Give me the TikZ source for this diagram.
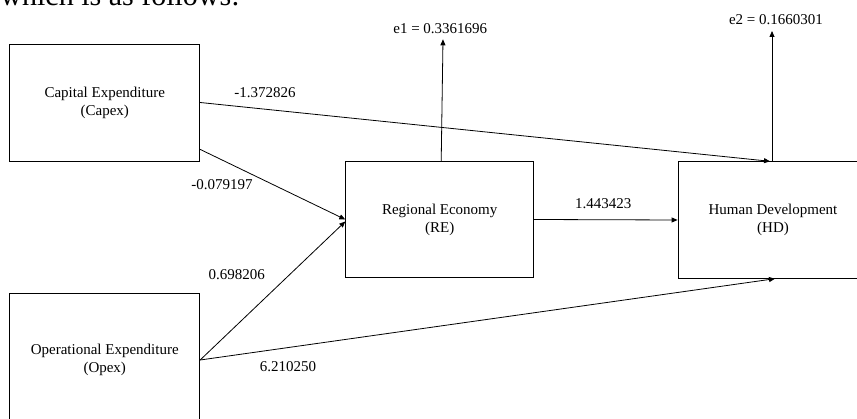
\documentclass[tikz,border=0pt]{standalone}
\usepackage{fontspec}
\setmainfont{Liberation Serif}
\usetikzlibrary{arrows.meta, shapes}
\usetikzlibrary{positioning}

\begin{document}
\begin{tikzpicture}[x=1pt,y=-1pt,->,>={Triangle[length=6pt,width=5pt]},line width=0.8pt,
  var node/.style={rectangle,draw,align=center,inner sep=0pt,font=\fontsize{15}{18}\selectfont,minimum width=190pt,minimum height=117pt},
  coef/.style={font=\fontsize{15}{18}\selectfont,anchor=base,inner sep=0pt}]
  \clip (0,0) rectangle (857,419);
  % line of text above the figure, cut off
  \node[anchor=base east,inner sep=0pt,font=\fontsize{30}{36}\selectfont] (intro) at (240,6) {which is as follows:};

  % variables
  \node[var node] (capex) at (104.75,102.5) {Capital Expenditure\\(Capex)};
  \node[var node,minimum height=134pt] (opex) at (104.75,360) {Operational Expenditure\\(Opex)};
  \node[var node,minimum width=188pt,minimum height=116pt] (re) at (439.7,219.5) {Regional Economy\\(RE)};
  \node[var node,minimum height=116.6pt] (hd) at (773,220) {Human Development\\(HD)};

  % error terms
  \node[coef] (e1) at (440.3,34) {e1 = 0.3361696};
  \node[coef] (e2) at (776,25) {e2 = 0.1660301};

  % path coefficients
  \node[coef] (c1) at (265,97.5) {-1.372826};
  \node[coef] (c2) at (222,190) {-0.079197};
  \node[coef] (c3) at (236.7,280) {0.698206};
  \node[coef] (c4) at (288,372) {6.210250};
  \node[coef] (c5) at (603.3,209) {1.443423};

  % paths
  \path
  (capex.east) edge ([xshift=-3pt]hd.north)
  ([yshift=12pt]capex.south east) edge (re.west)
  (opex.east) edge ([yshift=-2pt]re.west)
  (opex.east) edge ([xshift=2pt]hd.south)
  (re.east) edge (hd.west);

  \path
  ([xshift=1.5pt]re.north) edge ([shift={(2.7,5.3)}]e1.base)
  ([xshift=-1pt]hd.north) edge ([shift={(-4,6)}]e2.base);
\end{tikzpicture}
\end{document}
